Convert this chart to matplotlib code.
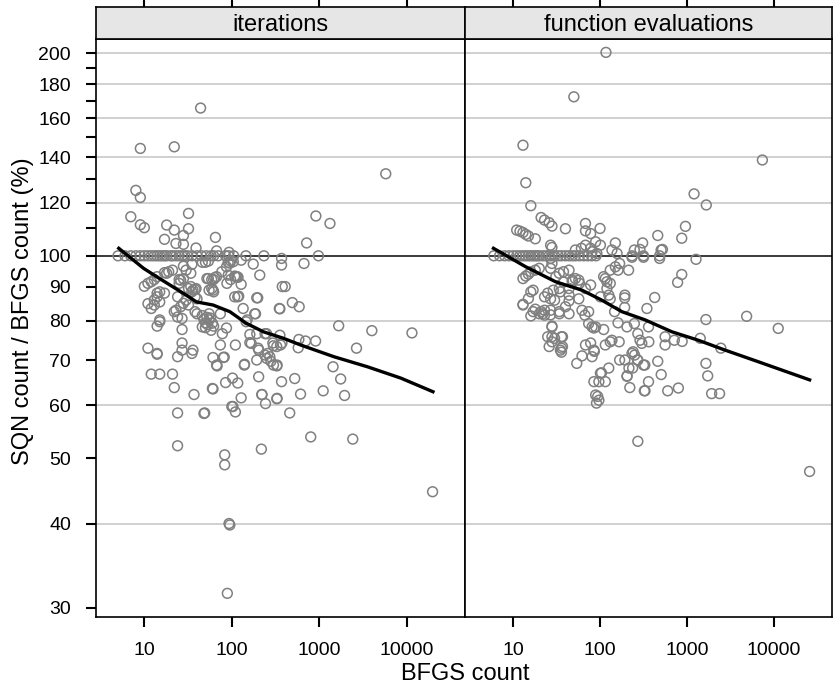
import matplotlib.pyplot as plt

plt.rcParams["font.family"] = ["Liberation Sans", "DejaVu Sans"]

panels = ["iterations", "function evaluations"]

# points that sit exactly on the 100 % line
iter_tie_x = [5, 6, 7, 8, 9, 10, 11, 12, 13, 14, 15, 16, 17, 18, 20, 21, 23, 25, 27, 29,
              31, 35, 40, 45, 51, 58, 62, 70, 85, 92, 105, 145, 233, 980]
feval_tie_x = [6, 7, 8, 9, 10, 11, 12, 13, 14, 15, 16, 17, 18, 19, 20, 22, 24, 26, 28, 30,
               33, 36, 40, 44, 48, 52, 58, 65, 72, 80, 90, 233, 316, 484]

# iterations panel
iter_x = [44, 9, 22, 5770, 8, 9, 7, 9, 10, 18, 22, 28, 32, 32, 65, 916, 1327, 718, 17, 23,
          28, 39, 67, 93, 371, 371, 176, 209, 378, 128, 111, 198, 108, 120, 670, 128, 91, 97, 50, 46,
          54, 35, 28, 21, 19, 17, 14, 13, 12, 11, 10, 12, 13, 15, 17, 15, 14, 14, 13, 11,
          15, 14, 15, 11, 14, 12, 15, 24, 27, 22, 21, 24, 24, 37, 49, 35, 36, 27, 24, 27,
          22, 23, 24, 32, 35, 38, 30, 26, 25, 34, 38, 46, 48, 50, 52, 53, 55, 50, 57, 60,
          46, 55, 62, 58, 54, 62, 67, 55, 62, 74, 78, 87, 74, 110, 61, 80, 68, 61, 85, 117,
          128, 103, 110, 83, 83, 140, 167, 200, 193, 203, 220, 243, 218, 257, 272, 280, 300, 330, 371, 330,
          460, 525, 612, 575, 585, 698, 909, 355, 375, 361, 300, 193, 240, 161, 150, 187, 193, 135, 117, 115,
          88, 97, 77, 355, 408, 493, 590, 1670, 4000, 11500, 2670, 1440, 1760, 1950, 1110, 800, 2420, 19800, 93, 95,
          89, 26, 28, 40, 183, 146, 161, 204, 350, 250, 295, 327, 240, 250, 327, 14, 27, 67, 82, 139,
          60, 102, 100, 222, 327, 48, 18, 30, 25, 28, 34, 36, 32, 39, 52, 59, 64, 87, 95, 104,
          91, 108, 118, 40, 38, 61, 59]
iter_y = [165.8, 144.4, 145.2, 132.4, 125.1, 122.1, 114.3, 111.2, 110.1, 111.1, 109.2, 107.2, 109.7, 115.6, 106.5, 114.6, 111.7, 104.5, 105.8, 104.3,
          104.0, 102.7, 101.7, 101.2, 99.1, 96.9, 97.2, 93.6, 90.0, 90.7, 93.1, 86.6, 86.9, 87.1, 97.4, 98.5, 97.8, 98.3, 97.8, 97.8,
          98.2, 97.1, 96.5, 95.2, 94.7, 94.4, 93.1, 92.2, 91.5, 91.0, 90.1, 83.5, 84.5, 85.4, 88.0, 88.4, 88.0, 86.9, 86.0, 84.9,
          80.3, 78.6, 79.8, 72.9, 71.4, 66.7, 66.7, 70.8, 74.2, 63.7, 66.7, 58.4, 52.2, 62.2, 58.4, 71.6, 72.4, 77.7, 81.1, 80.7,
          82.6, 83.0, 86.9, 84.5, 88.4, 89.1, 85.9, 92.0, 91.0, 94.2, 82.6, 78.4, 80.5, 79.5, 81.0, 79.0, 80.3, 78.2, 80.8, 79.4,
          81.5, 82.0, 78.6, 77.5, 92.5, 92.2, 93.1, 88.9, 88.4, 82.0, 76.6, 78.1, 73.7, 73.7, 70.6, 70.6, 68.6, 63.4, 64.8, 64.7,
          61.5, 59.7, 58.6, 50.6, 48.9, 69.0, 74.1, 72.9, 70.0, 66.1, 62.2, 60.3, 51.6, 71.6, 70.8, 69.7, 68.8, 68.8, 65.0, 61.4,
          58.4, 65.7, 62.3, 73.0, 75.1, 74.7, 74.7, 76.2, 74.2, 73.7, 73.5, 76.6, 76.6, 76.4, 80.3, 82.0, 86.6, 83.5, 86.9, 93.1,
          91.0, 92.2, 94.7, 83.4, 90.0, 85.2, 84.0, 78.7, 77.4, 76.8, 72.9, 68.4, 65.6, 62.0, 63.0, 53.8, 53.4, 44.6, 40.0, 39.8,
          31.5, 84.0, 85.0, 82.0, 82.0, 79.8, 74.3, 72.4, 83.5, 76.6, 74.2, 73.3, 71.2, 70.4, 68.6, 71.6, 72.4, 68.8, 70.7, 68.8,
          63.5, 65.8, 59.7, 62.2, 61.3, 58.3, 94.2, 95.2, 92.2, 92.5, 90.0, 88.9, 89.4, 89.4, 92.5, 92.2, 92.8, 96.3, 97.5, 98.0,
          93.6, 93.3, 92.9, 86.3, 86.9, 88.9, 89.4]

# function evaluations panel
feval_x = [117, 50, 13, 14, 16, 7360, 1206, 1667, 21, 23, 26, 28, 40, 68, 68, 78, 100, 461, 960, 870,
           11, 12, 13, 14, 15, 18, 27, 28, 52, 61, 68, 78, 89, 101, 81, 92, 150, 137, 157, 248,
           288, 309, 233, 316, 522, 484, 1270, 870, 780, 425, 504, 13, 14, 15, 16, 18, 20, 27, 28, 27,
           31, 34, 38, 44, 48, 52, 58, 78, 68, 110, 120, 131, 150, 161, 168, 213, 193, 120, 115, 101,
           131, 38, 346, 192, 192, 147, 126, 131, 74, 81, 85, 110, 161, 204, 248, 272, 288, 302, 364, 361,
           240, 250, 272, 193, 237, 205, 220, 327, 361, 323, 461, 505, 600, 796, 560, 560, 715, 880, 1420, 1650,
           4850, 11200, 2450, 1650, 1730, 1920, 2370, 272, 25700, 13, 15, 16, 17, 16, 17, 18, 22, 23, 27,
           27, 23, 25, 27, 30, 29, 34, 35, 44, 44, 34, 44, 57, 62, 74, 28, 25, 26, 30, 37,
           37, 35, 54, 62, 68, 78, 81, 85, 85, 97, 115, 101, 126, 89, 94, 91, 40, 44, 57, 48,
           166, 115, 137, 13, 20, 21, 34, 28, 67, 89, 131, 23, 97, 28, 36, 28, 36, 36, 86, 104,
           168, 215, 233, 270, 316, 204, 329]
feval_y = [200.6, 172.3, 146.0, 128.4, 118.7, 138.8, 123.6, 119.0, 114.0, 113.0, 112.0, 110.7, 109.7, 111.7, 108.9, 107.9, 109.8, 107.2, 110.6, 106.2,
           109.2, 108.8, 108.3, 107.6, 107.0, 106.0, 103.7, 102.9, 102.0, 102.6, 103.7, 102.6, 104.9, 103.7, 101.4, 100.8, 104.5, 102.0, 100.8, 102.0,
           102.2, 104.5, 99.5, 99.5, 102.2, 99.1, 98.8, 93.8, 91.3, 86.7, 102.0, 92.5, 93.3, 93.9, 94.7, 95.2, 95.8, 95.8, 97.4, 99.1,
           93.1, 94.2, 94.7, 95.2, 92.0, 92.5, 91.0, 90.5, 89.4, 93.1, 91.5, 95.2, 96.3, 95.2, 97.4, 95.2, 87.4, 89.4, 92.5, 86.9,
           86.3, 91.4, 83.5, 86.6, 83.8, 82.6, 87.4, 91.0, 79.3, 78.4, 78.1, 77.7, 79.5, 78.4, 79.3, 76.6, 74.9, 74.1, 74.5, 78.4,
           72.0, 71.2, 70.0, 70.0, 68.1, 66.3, 63.7, 68.8, 65.0, 63.0, 69.7, 66.6, 63.0, 63.6, 75.8, 73.7, 74.9, 74.6, 75.4, 80.4,
           81.3, 78.0, 72.9, 69.2, 66.3, 62.4, 62.4, 53.0, 47.8, 84.7, 86.4, 88.4, 88.9, 81.4, 82.6, 83.3, 82.0, 83.0, 81.7,
           83.0, 86.9, 88.0, 86.3, 85.9, 88.9, 89.4, 88.4, 87.4, 89.4, 82.6, 82.0, 86.3, 83.0, 82.6, 78.4, 75.8, 73.3, 75.4, 75.8,
           73.3, 72.4, 69.2, 71.0, 73.7, 74.2, 70.8, 72.4, 65.0, 65.0, 65.0, 66.9, 68.1, 62.1, 61.8, 60.4, 84.0, 85.7, 92.0, 91.5,
           74.5, 73.7, 74.9, 84.5, 82.0, 82.6, 82.0, 78.6, 81.6, 78.4, 74.5, 81.6, 61.0, 75.8, 75.8, 74.5, 72.9, 71.9, 72.1, 67.0,
           70.0, 68.1, 71.6, 70.0, 68.8, 66.2, 63.0]

# smoothed trend
iter_fit_x = [5.1, 9.8, 14, 27.7, 39.5, 61, 95, 146, 230, 390, 612, 1470, 3560, 8570, 20000]
iter_fit_y = [102.6, 95.8, 93.0, 88.0, 85.4, 84.5, 82.6, 79.4, 77.1, 75.4, 73.7, 70.8, 68.4, 65.8, 62.8]
feval_fit_x = [5.95, 14, 30.8, 62, 105, 178, 330, 670, 1350, 2750, 6580, 25700]
feval_fit_y = [102.6, 96.3, 91.5, 88.9, 85.9, 82.6, 80.3, 77.1, 74.9, 72.4, 69.6, 65.4]

x_ticks = [10, 100, 1000, 10000]
y_major = [30, 40, 50, 60, 70, 80, 90, 100, 120, 140, 160, 180, 200]
y_minor = [110, 130, 150, 170, 190]
grid_vals = [40, 60, 80, 120, 140, 160, 180, 200]

W, H = 833, 685
fig = plt.figure(figsize=(W / 100, H / 100), dpi=100)


def box(x0, y0, x1, y1):
    return [x0 / W, 1 - y1 / H, (x1 - x0) / W, (y1 - y0) / H]


data = [
    (iter_x + iter_tie_x, iter_y + [100] * len(iter_tie_x), iter_fit_x, iter_fit_y),
    (feval_x + feval_tie_x, feval_y + [100] * len(feval_tie_x), feval_fit_x, feval_fit_y),
]
edges = [(96, 465), (465, 832)]

for i, (name, (xs, ys, fx, fy), (x0, x1)) in enumerate(zip(panels, data, edges)):
    ax = fig.add_axes(box(x0, 39, x1, 617))
    ax.set_xscale("log")
    ax.set_yscale("log")
    ax.set_xlim(2.8, 46500)
    ax.set_ylim(29.05, 210)

    for v in grid_vals:
        ax.axhline(v, color="#c4c4c4", lw=1.1, zorder=0)
    ax.axhline(100, color="#2b2b2b", lw=1.3, zorder=0)

    ax.scatter(xs, ys, s=50, facecolors="none", edgecolors="#808080", linewidths=1.1, zorder=2)
    ax.plot(fx, fy, color="black", lw=2.4, zorder=3)

    ax.xaxis.set_major_locator(plt.FixedLocator(x_ticks))
    ax.xaxis.set_minor_locator(plt.NullLocator())
    ax.set_xticklabels([str(t) for t in x_ticks])
    ax.tick_params(axis="x", direction="out", length=7, width=1.5, labelsize=14, pad=11)

    ax.yaxis.set_minor_locator(plt.NullLocator())
    if i == 0:
        ax.yaxis.set_major_locator(plt.FixedLocator(y_major + y_minor))
        ax.set_yticklabels([str(t) for t in y_major] + [""] * len(y_minor))
        ax.tick_params(axis="y", direction="out", length=7, width=1.5, labelsize=14, pad=11)
    else:
        ax.yaxis.set_major_locator(plt.NullLocator())

    for s in ax.spines.values():
        s.set_linewidth(1.2)

    # strip on top of each panel
    sax = fig.add_axes(box(x0, 7, x1, 39))
    sax.set_facecolor("#e6e6e6")
    sax.set_xscale("log")
    sax.set_xlim(2.8, 46500)
    sax.xaxis.tick_top()
    sax.xaxis.set_major_locator(plt.FixedLocator(x_ticks))
    sax.xaxis.set_minor_locator(plt.NullLocator())
    sax.set_xticklabels([""] * len(x_ticks))
    sax.tick_params(axis="x", direction="out", length=7, width=1.5)
    sax.set_yticks([])
    for s in sax.spines.values():
        s.set_linewidth(1.2)
    sax.text(0.5, 0.45, name, transform=sax.transAxes, ha="center", va="center", fontsize=17)

fig.text(465 / W, 1 - 680 / H, "BFGS count", ha="center", va="baseline", fontsize=17)
fig.text(23 / W, 1 - 311 / H, "SQN count / BFGS count (%)", rotation=90,
         ha="center", va="center", fontsize=17)

fig.savefig("out.png", dpi=100)
